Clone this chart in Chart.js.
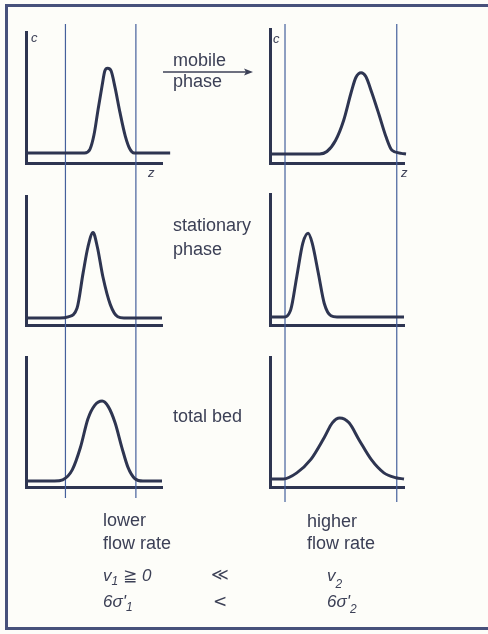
<!DOCTYPE html>
<html>
<head>
<meta charset="utf-8">
<script src="https://cdn.jsdelivr.net/npm/chart.js@4.4.1/dist/chart.umd.min.js"></script>
<style>
  html, body { margin: 0; padding: 0; overflow: hidden; }
  body {
    width: 488px; height: 634px; position: relative;
    background: #fdfdf9; color: #3c4056;
    font-family: "Liberation Sans", Arial, Helvetica, sans-serif;
  }
  .frame {
    position: absolute; left: 5px; top: 4px; width: 483px; height: 620px;
    border-left: 3px solid #47517b; border-top: 3px solid #47517b; border-bottom: 3px solid #47517b;
  }
  .panel { position: absolute; }
  .lbl { position: absolute; font-size: 18px; line-height: 18px; white-space: nowrap; }
  .ax { position: absolute; font-size: 13px; line-height: 13px; font-style: italic; }
  .m { position: absolute; font-size: 17px; line-height: 17px; font-style: italic; white-space: nowrap; }
  .m sub { font-size: 12px; position: relative; top: 4px; vertical-align: baseline; }
  .sym { position: absolute; font-family: "DejaVu Sans", sans-serif; font-size: 17px; line-height: 17px; }
</style>
</head>
<body>
<div class="frame"></div>

<canvas id="mobLow"  class="panel" width="244" height="154" style="left:0;top:24px"></canvas>
<canvas id="staLow"  class="panel" width="244" height="162" style="left:0;top:178px"></canvas>
<canvas id="totLow"  class="panel" width="244" height="158" style="left:0;top:340px"></canvas>
<canvas id="mobHigh" class="panel" width="244" height="154" style="left:244px;top:24px"></canvas>
<canvas id="staHigh" class="panel" width="244" height="162" style="left:244px;top:178px"></canvas>
<canvas id="totHigh" class="panel" width="244" height="162" style="left:244px;top:340px"></canvas>

<div class="ax" style="left:31px;top:31px">c</div>
<div class="ax" style="left:148px;top:166px">z</div>
<div class="ax" style="left:273px;top:32px">c</div>
<div class="ax" style="left:401px;top:166px">z</div>

<svg style="position:absolute;left:0;top:0" width="488" height="634">
  <line x1="163" y1="72" x2="247" y2="72" stroke="#3c4056" stroke-width="1.4"/>
  <path d="M253 72 L244 68.5 L246 72 L244 75.5 Z" fill="#3c4056"/>
</svg>

<div class="lbl" style="left:173px;top:51px">mobile</div>
<div class="lbl" style="left:173px;top:72px">phase</div>
<div class="lbl" style="left:173px;top:216px">stationary</div>
<div class="lbl" style="left:173px;top:240px">phase</div>
<div class="lbl" style="left:173px;top:407px">total bed</div>

<div class="lbl" style="left:103px;top:511px">lower</div>
<div class="lbl" style="left:103px;top:534px">flow rate</div>
<div class="lbl" style="left:307px;top:512px">higher</div>
<div class="lbl" style="left:307px;top:534px">flow rate</div>

<div class="m" style="left:103px;top:567px">v<sub>1</sub> <span style="font-style:normal;font-family:'DejaVu Sans'">≧</span> 0</div>
<div class="sym" style="left:211px;top:566px">≪</div>
<div class="m" style="left:327px;top:567px">v<sub style="top:7px">2</sub></div>
<div class="m" style="left:103px;top:593px">6σ'<sub>1</sub></div>
<div class="sym" style="left:213px;top:593px">&lt;</div>
<div class="m" style="left:327px;top:593px">6σ'<sub style="top:6px">2</sub></div>

<script>
// Concentration profiles c(z) at the lower flow rate (left column)
const zMobileLow = [0, 4.3, 4.7, 5.0, 5.3, 5.6, 5.8, 6.0, 6.25, 6.55, 6.9, 7.3, 7.65, 7.95, 10.6];
const cMobileLow = [0, 0, 0.03, 0.15, 0.36, 0.56, 0.68, 0.70, 0.68, 0.54, 0.34, 0.14, 0.03, 0, 0];

const zStationaryLow = [0, 2.5, 3.1, 3.75, 4.2, 4.55, 4.93, 5.25, 5.65, 6.2, 6.75, 7.2, 10];
const cStationaryLow = [0, 0, 0.01, 0.08, 0.37, 0.58, 0.70, 0.58, 0.34, 0.11, 0.01, 0, 0];

const zTotalLow = [0, 2.1, 2.7, 3.4, 4.0, 4.55, 5.05, 5.6, 6.05, 6.55, 7.05, 7.5, 8.0, 8.6, 10];
const cTotalLow = [0, 0, 0.01, 0.09, 0.27, 0.50, 0.61, 0.645, 0.60, 0.47, 0.27, 0.11, 0.02, 0, 0];

// Concentration profiles c(z) at the higher flow rate (right column)
const zMobileHigh = [0, 3.7, 4.25, 4.9, 5.5, 6.05, 6.4, 6.8, 7.15, 7.6, 8.15, 8.65, 9.1, 9.8, 10.15];
const cMobileHigh = [0, 0, 0.02, 0.11, 0.27, 0.49, 0.61, 0.65, 0.62, 0.49, 0.31, 0.14, 0.03, 0.005, 0];

const zStationaryHigh = [0, 1.0, 1.55, 2.0, 2.45, 2.85, 3.15, 3.6, 4.05, 4.55, 5.0, 10];
const cStationaryHigh = [0, 0, 0.06, 0.33, 0.60, 0.68, 0.60, 0.36, 0.11, 0.01, 0, 0];

const zTotalHigh = [0, 1.0, 2.0, 3.05, 4.05, 4.65, 5.2, 5.9, 6.65, 7.55, 8.5, 9.4, 10];
const cTotalHigh = [0, 0, 0.05, 0.16, 0.34, 0.46, 0.50, 0.46, 0.32, 0.16, 0.05, 0.01, 0];

// Bed boundaries (vertical guides) on each column's z axis
const bedLow = [2.9, 8.08];
const bedHigh = [1.12, 9.46];

const INK = '#2e3551';
const GUIDE = '#45609c';

// Vertical bed-boundary lines drawn through the whole canvas height
const bedLines = {
  id: 'bedLines',
  beforeDatasetsDraw(chart, args, opts) {
    const ctx = chart.ctx, xs = chart.scales.x;
    ctx.save();
    ctx.strokeStyle = GUIDE;
    ctx.lineWidth = 1.2;
    opts.values.forEach(v => {
      const px = xs.getPixelForValue(v);
      ctx.beginPath();
      ctx.moveTo(px, 0);
      ctx.lineTo(px, chart.height);
      ctx.stroke();
    });
    ctx.restore();
  }
};

function panel(id, z, c, guides, yMin, pad) {
  new Chart(document.getElementById(id), {
    type: 'line',
    data: {
      datasets: [{
        data: z.map((v, i) => ({ x: v, y: c[i] })),
        borderColor: INK,
        borderWidth: 3,
        pointRadius: 0,
        fill: false,
        cubicInterpolationMode: 'monotone',
        clip: false
      }]
    },
    options: {
      responsive: false,
      animation: false,
      events: [],
      layout: { padding: pad },
      plugins: {
        legend: { display: false },
        tooltip: { enabled: false },
        bedLines: { values: guides }
      },
      scales: {
        x: {
          type: 'linear', min: 0, max: 10,
          grid: { display: false },
          ticks: { display: false },
          border: { display: true, width: 3, color: INK },
          afterFit(s) { s.height = 0; }
        },
        y: {
          min: yMin, max: 1,
          grid: { display: false },
          ticks: { display: false },
          border: { display: true, width: 3, color: INK },
          afterFit(s) { s.width = 0; }
        }
      }
    },
    plugins: [bedLines]
  });
}

panel('mobLow', zMobileLow, cMobileLow, bedLow, -0.083, { left: 26, right: 82, top: 8, bottom: 15 });
panel('staLow', zStationaryLow, cStationaryLow, bedLow, -0.057, { left: 26, right: 82, top: 18, bottom: 15 });
panel('totLow', zTotalLow, cTotalLow, bedLow, -0.048, { left: 26, right: 82, top: 17, bottom: 11 });
panel('mobHigh', zMobileHigh, cMobileHigh, bedHigh, -0.072, { left: 26, right: 84, top: 5, bottom: 15 });
panel('staHigh', zStationaryHigh, cStationaryHigh, bedHigh, -0.065, { left: 26, right: 84, top: 16, bottom: 15 });
panel('totHigh', zTotalHigh, cTotalHigh, bedHigh, -0.066, { left: 26, right: 84, top: 17, bottom: 15 });
</script>
</body>
</html>
